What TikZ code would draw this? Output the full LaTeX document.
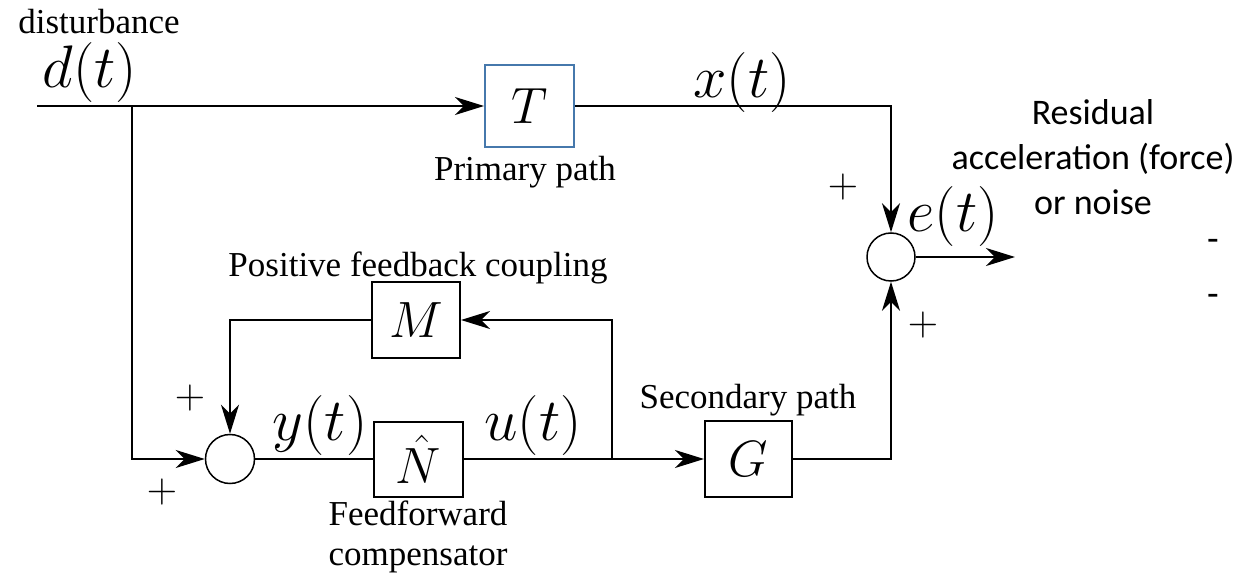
\RequirePackage{fix-cm}
\documentclass[tikz,border=0pt]{standalone}
\usepackage{amsmath}
\usepackage{fontspec}
\setmainfont{Liberation Serif}
\newfontfamily\calibri{Carlito}
\usetikzlibrary{arrows.meta}

\definecolor{boxblue}{RGB}{70,120,172}

\begin{document}
\begin{tikzpicture}[x=1pt,y=-1pt,
	block/.style={draw,line width=2pt,minimum width=88pt,minimum height=76pt,inner sep=0pt,font=\fontsize{51}{56}\selectfont},
	adder/.style={draw,circle,line width=1.5pt,minimum size=49pt,inner sep=0pt},
	lbl/.style={font=\fontsize{35}{40}\selectfont,inner sep=0pt},
	sig/.style={font=\fontsize{60}{64}\selectfont,inner sep=0pt},
	sgn/.style={font=\fontsize{42}{44}\selectfont,inner sep=0pt},
	line/.style={line width=2pt},
	arr/.style={line width=2pt,-{Stealth[length=29pt,width=18pt,inset=9pt]}}]
	\useasboundingbox (0,0) rectangle (1243,577);

	% blocks
	\node[block,draw=boxblue,minimum width=89pt,minimum height=82pt] (T) at (529.5,106) {$T$};
	\node[block] (M) at (416,320) {$M$};
	\node[block,minimum width=89pt,minimum height=75pt] (N) at (418.5,459) {$\hat{N}$};
	\node[block,minimum width=87pt,minimum height=76pt] (G) at (748.5,459) {$G$};
	\node[adder] (s1) at (230,459) {};
	\node[adder,minimum size=48pt] (s2) at (891,257) {};

	% branch points and free ends
	\coordinate (din) at (37,106);
	\coordinate (bd) at (132,106);
	\coordinate (bu) at (612,459);
	\coordinate (eout) at (1015,257);

	% connectors
	\draw[arr] (din) -- (T.west);
	\draw[arr] (T.east) -| (s2.north);
	\draw[arr] (bd) |- (s1.west);
	\draw[arr] (M.west) -| (s1.north);
	\draw[line] (s1.east) -- (N.west);
	\draw[arr] (N.east) -- (G.west);
	\draw[arr] (bu) |- (M.east);
	\draw[arr] (G.east) -| (s2.south);
	\draw[arr] (s2.east) -- (eout);

	% labels
	\node[lbl] (ldist) at (99,22) {disturbance};
	\node[sig] (ld) at (90,73) {$d(t)$};
	\node[sig] (lx) at (742,83) {$x(t)$};
	\node[sig] (le) at (953,217) {$e(t)$};
	\node[sig] (ly) at (320,426) {$y(t)$};
	\node[sig] (lu) at (533,426) {$u(t)$};
	\node[lbl] (lprim) at (525,172) {Primary path};
	\node[lbl] (lpos) at (418,268) {Positive feedback coupling};
	\node[lbl] (lsec) at (748,400) {Secondary path};
	\node[lbl,align=center] (lff) at (418,537) {Feedforward\\compensator};
	\node[font=\calibri\fontsize{36}{45}\selectfont,align=center,inner sep=0pt] (lres) at (1093,157) {Residual\\acceleration (force)\\or noise};
	\node[font=\calibri\fontsize{38}{40}\selectfont,inner sep=0pt] (ldash1) at (1213,245) {-};
	\node[font=\calibri\fontsize{38}{40}\selectfont,inner sep=0pt] (ldash2) at (1213,300) {-};

	% signs
	\node[sgn] (p1) at (843,187) {$+$};
	\node[sgn] (p2) at (923,325) {$+$};
	\node[sgn] (p3) at (190,398) {$+$};
	\node[sgn] (p4) at (162,492) {$+$};
\end{tikzpicture}
\end{document}
